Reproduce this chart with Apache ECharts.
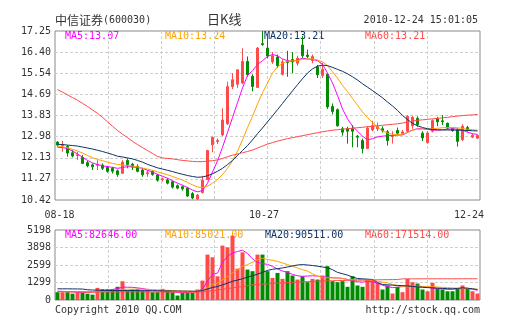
<!DOCTYPE html>
<html>
<head>
<meta charset="utf-8">
<script src="https://cdn.jsdelivr.net/npm/echarts@6/dist/echarts.min.js"></script>
<style>
  html, body { margin: 0; padding: 0; background: #fff; }
  #chart { width: 505px; height: 330px; }
</style>
</head>
<body>
<div id="chart"></div>
<script>
// Trading days, 2010-08-18 .. 2010-12-24
const dates = [
  '08-18','08-19','08-20','08-23','08-24','08-25','08-26','08-27','08-30','08-31',
  '09-01','09-02','09-03','09-06','09-07','09-08','09-09','09-10','09-13','09-14',
  '09-15','09-16','09-17','09-20','09-21','09-27','09-28','09-29','09-30',
  '10-08','10-11','10-12','10-13','10-14','10-15','10-18','10-19','10-20','10-21',
  '10-22','10-25','10-26','10-27','10-28','10-29',
  '11-01','11-02','11-03','11-04','11-05','11-08','11-09','11-10','11-11','11-12',
  '11-15','11-16','11-17','11-18','11-19','11-22','11-23','11-24','11-25','11-26',
  '11-29','11-30',
  '12-01','12-02','12-03','12-06','12-07','12-08','12-09','12-10','12-13','12-14',
  '12-15','12-16','12-17','12-20','12-21','12-22','12-23','12-24'
];

// Daily prices
const opens = [
  12.76,12.62,12.58,12.33,12.22,12.14,11.93,11.84,11.82,11.83,
  11.74,11.70,11.60,11.50,12.02,11.87,11.78,11.63,11.48,11.57,
  11.43,11.24,11.23,11.16,11.00,10.96,10.90,10.68,10.46,
  10.72,11.25,12.65,12.78,13.05,13.50,15.00,15.10,15.15,16.02,
  15.42,14.97,16.74,16.56,16.00,16.20,
  15.50,16.05,16.10,15.95,16.68,16.28,16.05,15.80,15.45,15.50,
  14.20,14.07,13.30,13.30,13.30,13.00,12.82,12.50,13.25,13.30,
  13.30,13.18,
  12.98,13.23,13.10,13.20,13.42,13.72,13.12,12.74,13.20,13.70,
  13.62,13.52,13.30,13.26,12.86,13.35,12.96,12.92
];
const closes = [
  12.64,12.66,12.32,12.20,12.25,11.90,11.80,11.76,11.86,11.70,
  11.58,11.58,11.45,11.95,11.85,11.75,11.58,11.44,11.52,11.45,
  11.22,11.27,11.10,10.94,10.90,10.87,10.58,10.50,10.62,
  11.22,12.42,12.95,12.82,13.65,15.00,15.28,15.68,16.02,15.48,
  15.01,16.56,16.70,16.24,16.25,15.85,
  16.00,15.98,16.00,16.15,16.25,16.22,16.22,15.48,15.70,14.18,
  14.00,13.42,13.16,13.20,13.20,12.96,12.50,13.32,13.42,13.38,
  13.22,12.82,
  13.02,13.12,13.17,13.80,13.76,13.47,12.93,13.13,13.63,13.58,
  13.58,13.32,13.22,12.79,13.40,13.24,13.04,13.03
];
const lows = [
  12.58,12.37,12.17,12.14,12.03,11.87,11.74,11.63,11.63,11.63,
  11.52,11.49,11.36,11.47,11.70,11.63,11.54,11.36,11.36,11.40,
  11.16,11.16,11.05,10.88,10.85,10.80,10.55,10.45,10.42,
  10.68,11.22,12.35,12.68,13.00,13.45,14.90,14.95,15.10,15.40,
  14.81,14.95,16.65,16.15,15.92,15.75,
  15.45,15.40,15.55,15.85,16.15,16.15,15.95,15.35,15.35,14.10,
  13.88,13.38,13.02,12.70,12.55,12.55,12.30,12.48,13.20,13.20,
  13.15,12.62,
  12.70,13.05,13.05,13.15,13.30,13.38,12.80,12.70,13.15,13.40,
  13.45,13.28,13.18,12.58,12.80,13.18,12.92,12.88
];
const highs = [
  12.80,12.81,12.64,12.44,12.37,12.24,12.01,11.90,12.03,11.90,
  11.80,11.76,11.65,12.03,12.10,11.92,11.86,11.70,11.62,11.62,
  11.47,11.33,11.30,11.20,11.05,11.00,10.95,10.74,10.66,
  11.40,12.45,12.98,12.90,14.12,15.20,15.55,15.70,16.55,16.22,
  15.50,16.60,17.25,17.15,16.40,16.30,
  16.10,16.45,16.40,16.25,17.05,16.50,16.30,15.88,15.98,15.55,
  14.32,14.12,13.38,13.38,13.45,13.05,12.90,13.40,13.62,13.55,
  13.40,13.25,
  13.20,13.35,13.25,13.85,13.82,13.80,13.20,13.20,13.68,13.78,
  13.85,13.55,13.35,13.32,13.48,13.42,13.10,13.06
];

// Daily volume
const volumes = [
  580,580,580,470,580,530,470,400,900,800,
  800,800,980,1390,700,800,830,700,830,580,
  580,830,700,580,330,530,530,530,780,
  1440,3370,3170,1760,4040,3910,4780,2330,3540,2260,
  2140,3370,3370,2140,1640,2010,
  1570,2140,1820,1520,1770,1320,1570,1520,1820,2510,
  1400,1320,1400,980,1770,1080,980,1520,1520,1270,
  780,1080,
  480,980,580,1570,1320,1220,780,650,1270,830,
  780,650,650,830,1080,830,650,480
];

// Price moving averages
const ma5 = [
  12.55,12.54,12.50,12.40,12.28,12.15,12.02,11.92,11.85,11.80,
  11.77,11.74,11.70,11.73,11.77,11.76,11.73,11.70,11.62,11.55,
  11.46,11.38,11.30,11.20,11.10,11.02,10.92,10.82,10.75,
  10.80,11.10,11.55,12.00,12.55,13.15,13.75,14.35,14.95,15.45,
  15.65,15.90,16.05,16.22,16.30,16.25,
  16.12,16.05,16.02,16.08,16.15,16.12,16.10,16.05,15.90,15.55,
  15.15,14.65,14.10,13.70,13.40,13.20,13.00,12.85,12.90,12.97,
  13.00,13.02,
  13.03,13.04,13.05,13.15,13.25,13.30,13.30,13.27,13.25,13.24,
  13.26,13.28,13.30,13.28,13.24,13.16,13.10,13.07
];
const ma10 = [
  12.60,12.57,12.53,12.47,12.40,12.32,12.22,12.13,12.06,12.01,
  11.95,11.90,11.86,11.83,11.81,11.79,11.76,11.71,11.67,11.62,
  11.56,11.50,11.44,11.37,11.30,11.22,11.13,11.03,10.95,
  10.92,10.98,11.10,11.25,11.45,11.70,12.00,12.40,12.85,13.35,
  13.80,14.30,14.75,15.15,15.55,15.80,
  15.95,16.03,16.05,16.05,16.10,16.12,16.12,16.08,16.00,15.85,
  15.60,15.35,15.05,14.80,14.52,14.25,13.98,13.75,13.55,13.35,
  13.22,13.12,
  13.08,13.06,13.08,13.14,13.24,13.28,13.29,13.29,13.30,13.32,
  13.34,13.35,13.35,13.34,13.31,13.28,13.26,13.24
];
const ma20 = [
  12.67,12.66,12.64,12.62,12.60,12.56,12.52,12.48,12.43,12.38,
  12.32,12.26,12.19,12.16,12.12,12.08,12.02,11.95,11.86,11.79,
  11.72,11.67,11.62,11.57,11.51,11.46,11.41,11.37,11.34,
  11.35,11.40,11.48,11.58,11.70,11.85,12.02,12.22,12.42,12.62,
  12.85,13.10,13.33,13.58,13.82,14.07,
  14.32,14.58,14.83,15.08,15.32,15.55,15.72,15.83,15.87,15.85,
  15.78,15.70,15.62,15.52,15.40,15.27,15.12,14.98,14.84,14.70,
  14.55,14.38,
  14.22,14.04,13.84,13.67,13.52,13.42,13.35,13.30,13.27,13.26,
  13.25,13.25,13.25,13.24,13.24,13.23,13.22,13.21
];
const ma60 = [
  14.88,14.78,14.67,14.56,14.45,14.33,14.20,14.06,13.92,13.76,
  13.58,13.40,13.23,13.08,12.94,12.79,12.66,12.54,12.42,12.30,
  12.18,12.12,12.10,12.08,12.05,12.02,12.00,11.98,11.97,
  11.97,11.99,12.01,12.04,12.10,12.17,12.23,12.28,12.33,12.38,
  12.44,12.52,12.60,12.68,12.74,12.80,
  12.85,12.90,12.94,12.98,13.02,13.06,13.10,13.14,13.18,13.21,
  13.24,13.26,13.28,13.30,13.32,13.34,13.36,13.38,13.40,13.42,
  13.44,13.46,
  13.48,13.50,13.53,13.57,13.61,13.64,13.66,13.68,13.70,13.72,
  13.74,13.76,13.79,13.81,13.83,13.85,13.86,13.88
];

// Volume moving averages
const volMa5 = [
  650,640,620,600,580,560,560,580,620,660,
  700,780,850,950,950,940,900,850,780,720,
  680,650,620,600,560,540,560,600,620,
  800,1400,1900,2000,2800,3250,3500,3600,3700,3450,
  3050,2800,2700,2650,2500,2300,
  2150,2050,1900,1800,1760,1780,1800,1780,1720,1700,
  1650,1640,1600,1530,1450,1350,1330,1380,1350,1250,
  1100,1000,
  920,950,1000,1050,1000,980,960,950,900,850,
  830,790,800,850,880,860,800,720
];
const volMa10 = [
  620,620,620,620,620,610,600,600,610,620,
  640,700,740,780,800,800,800,790,780,770,
  760,740,720,700,680,670,660,650,650,
  700,950,1150,1270,1500,1750,2010,2250,2500,2630,
  2800,2990,3110,3000,2950,2870,
  2750,2630,2500,2380,2250,2140,1950,1770,1700,1640,
  1640,1640,1600,1520,1520,1520,1520,1480,1440,1400,
  1330,1270,
  1150,1080,1000,980,990,1030,1010,990,980,960,
  940,920,900,880,860,840,820,790
];
const volMa20 = [
  830,830,830,825,820,815,760,740,730,720,
  710,705,700,700,700,700,695,690,690,685,
  680,680,675,670,665,660,655,650,650,
  700,820,930,1000,1120,1250,1390,1480,1580,1700,
  1800,1920,2050,2200,2280,2330,
  2380,2450,2530,2600,2630,2600,2560,2510,2450,2400,
  2250,2050,1950,1850,1700,1600,1570,1550,1520,1300,
  1150,1130,
  1100,1080,1070,1040,1000,980,950,920,900,880,
  860,840,830,860,900,880,830,780
];
const volMa60 = [
  620,615,610,605,600,600,598,595,595,595,
  595,595,600,605,605,605,605,600,600,600,
  598,595,592,590,588,585,582,580,580,
  600,650,700,740,800,850,900,950,1000,1060,
  1120,1150,1180,1200,1230,1250,
  1270,1290,1310,1330,1350,1370,1390,1400,1410,1420,
  1430,1440,1450,1460,1465,1470,1475,1480,1490,1500,
  1505,1510,
  1515,1520,1570,1570,1570,1572,1572,1574,1574,1575,
  1575,1576,1576,1577,1577,1578,1578,1578
];

// Axis tick texts and headline figures
const priceTicks = ['10.42','11.27','12.13','12.98','13.83','14.69','15.54','16.40','17.25'];
const volumeTicks = ['0','1299','2599','3898','5198'];
const dateTicks = ['08-18','10-27','12-24'];
const priceMaTexts = ['MA5:13.07','MA10:13.24','MA20:13.21','MA60:13.21'];
const volumeMaTexts = ['MA5:82646.00','MA10:85021.00','MA20:90511.00','MA60:171514.00'];

const UP = '#ff4a4a';
const DOWN = '#008c00';
const MA_COLORS = ['#ff00ff', '#ffa200', '#0d3264', '#ff4a4a'];
const MONO = '"DejaVu Sans Mono", "Liberation Mono", monospace';
const CJK = '"Noto Sans CJK SC", sans-serif';
const TEXT = '#333333';
const GRID_LINE = { show: true, showMinLine: false, showMaxLine: false,
  lineStyle: { color: '#cfcfcf', type: [3, 2], width: 1 } };

const candles = dates.map((_, i) => [opens[i], closes[i], lows[i], highs[i]]);
const volumeBars = volumes.map((v, i) => ({
  value: v,
  itemStyle: { color: closes[i] >= opens[i] ? UP : DOWN }
}));

const PRICE_MIN = 10.42, PRICE_MAX = 17.25;
const VOL_MAX = 5198;

function maLine(name, data, color, xi, yi) {
  return {
    name, type: 'line', data, xAxisIndex: xi, yAxisIndex: yi,
    symbol: 'none', smooth: false, silent: true, z: 5,
    lineStyle: { color, width: 1 }
  };
}

function hiddenValueX(gridIndex) {
  return {
    type: 'value', gridIndex, min: 0, max: 8, interval: 1,
    axisLine: { show: false }, axisTick: { show: false },
    axisLabel: { show: false }, splitLine: GRID_LINE
  };
}

const chart = echarts.init(document.getElementById('chart'), null, { renderer: 'canvas' });

const labelShift = { '08-18': 'a', '10-27': 'b', '12-24': 'c' };

chart.setOption({
  animation: false,
  backgroundColor: '#ffffff',
  textStyle: { fontFamily: MONO },
  grid: [
    { left: 55, top: 31, width: 425, height: 169, show: true, borderColor: '#8a8a8a', borderWidth: 1, backgroundColor: 'transparent' },
    { left: 55, top: 230, width: 425, height: 70, show: true, borderColor: '#8a8a8a', borderWidth: 1, backgroundColor: 'transparent' }
  ],
  xAxis: [
    {
      type: 'category', gridIndex: 0, data: dates, boundaryGap: true,
      axisLine: { show: false }, axisTick: { show: false }, splitLine: { show: false },
      axisLabel: {
        interval: (idx, val) => dateTicks.includes(val),
        margin: 10, color: TEXT, fontFamily: MONO, fontSize: 10,
        formatter: (val) => '{' + labelShift[val] + '|' + val + '}',
        rich: {
          a: { padding: [0, 0, 0, 4] },
          b: { padding: [0, 7, 0, 0] },
          c: { padding: [0, 17, 0, 0] }
        }
      }
    },
    {
      type: 'category', gridIndex: 1, data: dates, boundaryGap: true,
      axisLine: { show: false }, axisTick: { show: false },
      axisLabel: { show: false }, splitLine: { show: false }
    },
    hiddenValueX(0),
    hiddenValueX(1)
  ],
  yAxis: [
    {
      type: 'value', gridIndex: 0, min: PRICE_MIN, max: PRICE_MAX,
      interval: (PRICE_MAX - PRICE_MIN) / 8,
      axisLine: { show: false }, axisTick: { show: false },
      axisLabel: {
        margin: 4, color: TEXT, fontFamily: MONO, fontSize: 10,
        formatter: (v) => priceTicks[Math.round((v - PRICE_MIN) / ((PRICE_MAX - PRICE_MIN) / 8))] || ''
      },
      splitLine: GRID_LINE
    },
    {
      type: 'value', gridIndex: 1, min: 0, max: VOL_MAX, interval: VOL_MAX / 4,
      axisLine: { show: false }, axisTick: { show: false },
      axisLabel: {
        margin: 4, color: TEXT, fontFamily: MONO, fontSize: 10,
        formatter: (v) => volumeTicks[Math.round(v / (VOL_MAX / 4))] || ''
      },
      splitLine: GRID_LINE
    }
  ],
  series: [
    {
      name: 'K', type: 'candlestick', data: candles, xAxisIndex: 0, yAxisIndex: 0,
      barWidth: 3, z: 3,
      itemStyle: { color: UP, color0: DOWN, borderColor: UP, borderColor0: DOWN, borderWidth: 1 }
    },
    maLine('MA5', ma5, MA_COLORS[0], 0, 0),
    maLine('MA10', ma10, MA_COLORS[1], 0, 0),
    maLine('MA20', ma20, MA_COLORS[2], 0, 0),
    maLine('MA60', ma60, MA_COLORS[3], 0, 0),
    {
      name: 'VOL', type: 'bar', data: volumeBars, xAxisIndex: 1, yAxisIndex: 1,
      barWidth: 4, z: 3
    },
    maLine('VMA5', volMa5, MA_COLORS[0], 1, 1),
    maLine('VMA10', volMa10, MA_COLORS[1], 1, 1),
    maLine('VMA20', volMa20, MA_COLORS[2], 1, 1),
    maLine('VMA60', volMa60, MA_COLORS[3], 1, 1)
  ],
  graphic: [
    { type: 'text', left: 55, top: 14, style: { text: '中信证券', font: '12px ' + CJK, fill: TEXT } },
    { type: 'text', left: 103, top: 15, style: { text: '(600030)', font: '10px ' + MONO, fill: TEXT } },
    { type: 'text', left: 207, top: 13, style: { text: '日K线', font: '13px ' + CJK, fill: TEXT } },
    { type: 'text', right: 27, top: 15, style: { text: '2010-12-24 15:01:05', font: '10px ' + MONO, fill: TEXT } },

    { type: 'text', left: 65, top: 31, style: { text: priceMaTexts[0], font: '10px ' + MONO, fill: MA_COLORS[0] } },
    { type: 'text', left: 165, top: 31, style: { text: priceMaTexts[1], font: '10px ' + MONO, fill: MA_COLORS[1] } },
    { type: 'text', left: 264, top: 31, style: { text: priceMaTexts[2], font: '10px ' + MONO, fill: MA_COLORS[2] } },
    { type: 'text', left: 365, top: 31, style: { text: priceMaTexts[3], font: '10px ' + MONO, fill: MA_COLORS[3] } },

    { type: 'text', left: 65, top: 230, style: { text: volumeMaTexts[0], font: '10px ' + MONO, fill: MA_COLORS[0] } },
    { type: 'text', left: 165, top: 230, style: { text: volumeMaTexts[1], font: '10px ' + MONO, fill: MA_COLORS[1] } },
    { type: 'text', left: 265, top: 230, style: { text: volumeMaTexts[2], font: '10px ' + MONO, fill: MA_COLORS[2] } },
    { type: 'text', left: 365, top: 230, style: { text: volumeMaTexts[3], font: '10px ' + MONO, fill: MA_COLORS[3] } },

    { type: 'text', left: 55, top: 305, style: { text: 'Copyright 2010 QQ.COM', font: '10px ' + MONO, fill: TEXT } },
    { type: 'text', right: 25, top: 305, style: { text: 'http://stock.qq.com', font: '10px ' + MONO, fill: TEXT } }
  ]
});
</script>
</body>
</html>
